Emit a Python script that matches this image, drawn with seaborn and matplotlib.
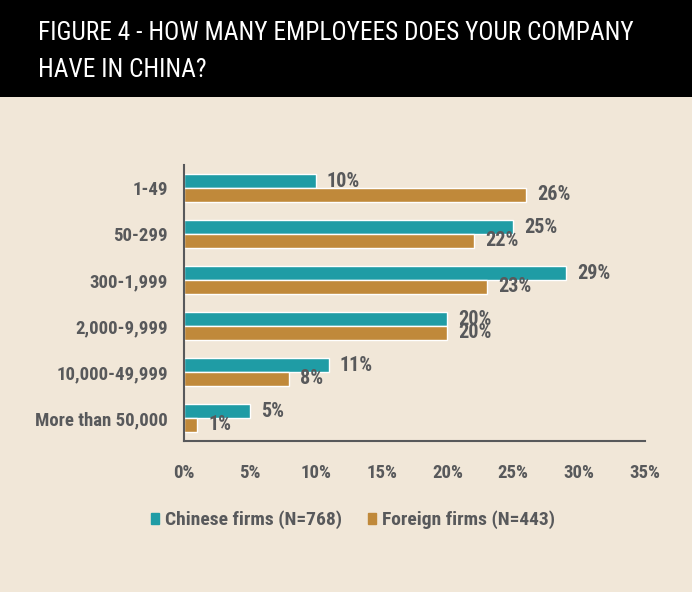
import pandas as pd
import matplotlib.pyplot as plt
import matplotlib.patches as mpatches
import seaborn as sns

# Dados do gráfico
categorias = ['1-49', '50-299', '300-1,999', '2,000-9,999', '10,000-49,999', 'More than 50,000']
chinesas = [10, 25, 29, 20, 11, 5]
estrangeiras = [26, 22, 23, 20, 8, 1]
series = ['Chinese firms (N=768)', 'Foreign firms (N=443)']
xticks = [0, 5, 10, 15, 20, 25, 30, 35]

df = pd.DataFrame({
    'categoria': categorias * 2,
    'valor': chinesas + estrangeiras,
    'grupo': [series[0]] * len(categorias) + [series[1]] * len(categorias),
})

bege = '#F1E7D8'
cinza = '#58595B'
cores = ['#1F9CA5', '#C0893A']

sns.set_style('white')
plt.rcParams['font.family'] = ['Roboto Condensed', 'Liberation Sans', 'DejaVu Sans']

fig = plt.figure(figsize=(6.92, 5.92), dpi=100, facecolor=bege)

# faixa preta do título
fig.patches.append(mpatches.Rectangle((0, 1 - 97 / 592), 1, 97 / 592, transform=fig.transFigure,
                                      facecolor='black', edgecolor='none', zorder=0))
fig.text(38 / 692, 1 - 33 / 592, 'FIGURE 4 - HOW MANY EMPLOYEES DOES YOUR COMPANY',
         color='white', fontsize=18.3, va='center', ha='left')
fig.text(38 / 692, 1 - 70 / 592, 'HAVE IN CHINA?',
         color='white', fontsize=18.3, va='center', ha='left')

ax = fig.add_axes([184 / 692, 1 - 441 / 592, (645 - 184) / 692, (441 - 165) / 592])
ax.set_facecolor(bege)

sns.barplot(data=df, x='valor', y='categoria', hue='grupo', orient='h',
            palette=cores, width=0.6, saturation=1, ax=ax, legend=False)

for cont in ax.containers:
    ax.bar_label(cont, labels=[f'{v:.0f}%' for v in cont.datavalues], padding=8,
                 color=cinza, fontsize=14.5, fontweight='bold')

ax.set_xlim(0, 35)
ax.set_ylim(5.5, -0.5)
ax.set_xticks(xticks, [f'{t}%' for t in xticks])
ax.set_yticks(range(len(categorias)), categorias)
ax.set_yticks([i - 0.5 for i in range(len(categorias) + 1)], minor=True)
ax.tick_params(axis='y', which='major', length=0, pad=11.5, labelsize=13.5, labelcolor=cinza)
ax.tick_params(axis='y', which='minor', length=4, width=1.5, color=cinza, direction='out')
ax.tick_params(axis='x', length=4, width=1.5, color=cinza, pad=12.5, labelsize=13.5, labelcolor=cinza)
for lbl in ax.get_xticklabels() + ax.get_yticklabels():
    lbl.set_fontweight('bold')
ax.set_xlabel('')
ax.set_ylabel('')
for s in ['top', 'right']:
    ax.spines[s].set_visible(False)
for s in ['left', 'bottom']:
    ax.spines[s].set_color(cinza)
    ax.spines[s].set_linewidth(1.5)

handles = [mpatches.Patch(color=c, label=s) for c, s in zip(cores, series)]
leg = fig.legend(handles=handles, loc='center', bbox_to_anchor=(353 / 692, 1 - 520 / 592),
                 ncol=2, frameon=False, handlelength=0.45, handleheight=0.45,
                 handletextpad=0.31, columnspacing=1.29, prop={'size': 14, 'weight': 'bold'})
for t in leg.get_texts():
    t.set_color(cinza)

fig.savefig('out.png', dpi=100, facecolor=bege)
